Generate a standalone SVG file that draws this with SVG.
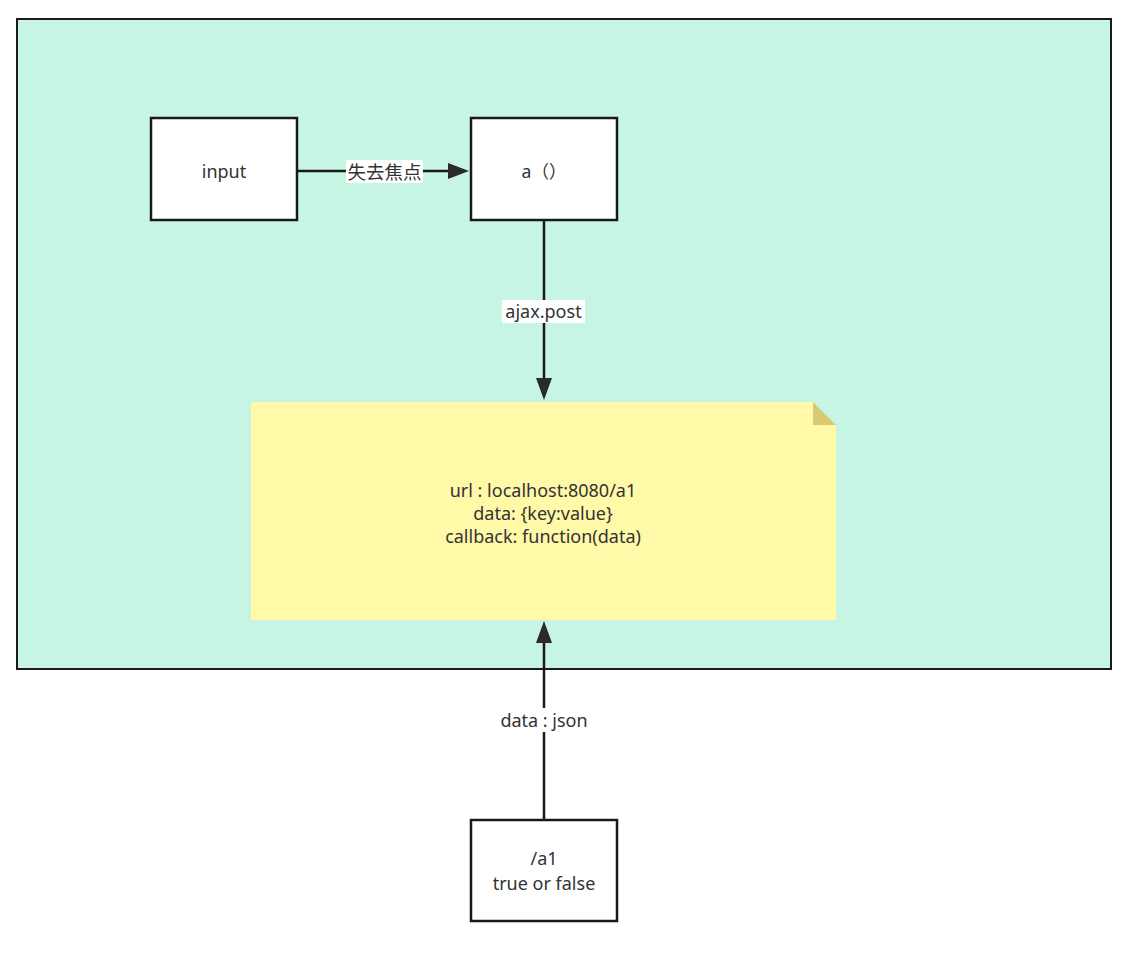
<svg xmlns="http://www.w3.org/2000/svg" width="1137" height="956" viewBox="0 0 1137 956">
  <style>
    .box { fill: #ffffff; stroke: #1a1a1a; stroke-width: 2.5; }
    .lbl { font-family: "Noto Sans", "Open Sans", "Noto Sans CJK SC", sans-serif; font-size: 18px; fill: #333333; text-anchor: middle; dominant-baseline: central; }
    .cjk { font-family: "Noto Sans CJK SC", sans-serif; font-size: 18.5px; }
    .edge { stroke: #1a1a1a; stroke-width: 2.5; fill: none; }
    .head { fill: #2a2a2a; }
    .tagbg { fill: #ffffff; }
  </style>
  <rect width="1137" height="956" fill="#ffffff"/>

  <!-- page container -->
  <g id="container">
    <rect x="17" y="19" width="1094" height="650" fill="#c6f5e3" stroke="#1a1a1a" stroke-width="2"/>
  </g>

  <!-- connectors -->
  <g id="connectors">
    <line class="edge" x1="298" y1="171" x2="462" y2="171"/>
    <path class="head" d="M448,163 L469,171 L448,179 z"/>
    <rect class="tagbg" x="346" y="160" width="77" height="23"/>
    <text class="lbl cjk" x="384.5" y="171">失去焦点</text>

    <line class="edge" x1="544" y1="221" x2="544" y2="393"/>
    <path class="head" d="M536,378 L544,400 L552,378 z"/>
    <rect class="tagbg" x="502" y="300" width="83" height="23"/>
    <text class="lbl" x="543.5" y="311">ajax.post</text>

    <line class="edge" x1="544" y1="820" x2="544" y2="628"/>
    <path class="head" d="M536,643 L544,621 L552,643 z"/>
    <rect class="tagbg" x="496" y="708" width="96" height="24"/>
    <text class="lbl" x="544" y="720">data : json</text>
  </g>

  <!-- nodes -->
  <g id="node-input">
    <rect class="box" x="151" y="118" width="146" height="102"/>
    <text class="lbl" x="224" y="171">input</text>
  </g>

  <g id="node-a">
    <rect class="box" x="471" y="118" width="146" height="102"/>
    <text class="lbl" x="544" y="171" style="font-size:17.5px">a（）</text>
  </g>

  <g id="node-note">
    <path d="M251,402 L813,402 L836,425 L836,620 L251,620 z" fill="#fff9a8"/>
    <path d="M813,402 L836,425 L813,425 z" fill="#d6cb72"/>
    <text class="lbl" x="543" y="490">url : localhost:8080/a1</text>
    <text class="lbl" x="543" y="513">data: {key:value}</text>
    <text class="lbl" x="543" y="536">callback: function(data)</text>
  </g>

  <g id="node-a1">
    <rect class="box" x="471" y="820" width="146" height="101"/>
    <text class="lbl" x="544" y="858">/a1</text>
    <text class="lbl" x="544" y="883">true or false</text>
  </g>
</svg>
